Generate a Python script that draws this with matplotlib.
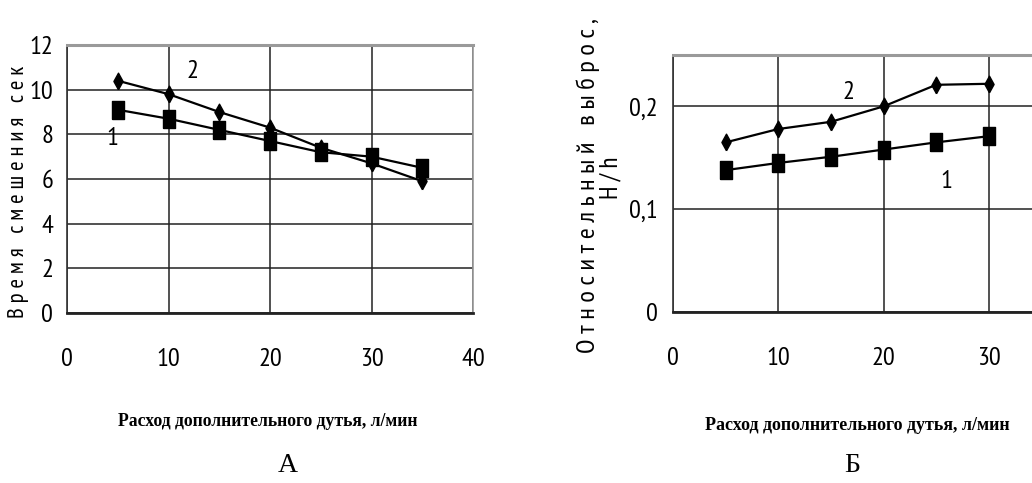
import matplotlib
matplotlib.use("Agg")
import matplotlib.pyplot as plt
from matplotlib.ticker import FixedLocator, FixedFormatter

# ---- data ----
x_a = [5, 10, 15, 20, 25, 30, 35]
a_series1 = [9.1, 8.7, 8.2, 7.7, 7.2, 7.0, 6.5]
a_series2 = [10.4, 9.8, 9.0, 8.3, 7.4, 6.7, 5.9]

x_b = [5, 10, 15, 20, 25, 30]
b_series1 = [0.138, 0.145, 0.151, 0.158, 0.165, 0.171]
b_series2 = [0.165, 0.178, 0.185, 0.200, 0.221, 0.222]

a_xticks = [0, 10, 20, 30, 40]
a_yticks = [0, 2, 4, 6, 8, 10, 12]
b_xticks = [0, 10, 20, 30]
b_yticks = [0, 0.1, 0.2]
b_yticklabels = ["0", "0,1", "0,2"]

xlabel = "Расход дополнительного дутья, л/мин"
a_ylabel = "В р е м я   с м е ш е н и я   с е к"
b_ylabel = "О т н о с и т е л ь н ы й   в ы б р о с ,"
b_ylabel2 = "H / h"

NARROW = ["PT Sans Narrow", "DejaVu Sans"]
SERIF = ["Liberation Serif", "DejaVu Serif"]

W, H = 1032, 483
fig = plt.figure(figsize=(W / 100, H / 100), dpi=100)

sq = [(-0.33, -0.5), (0.33, -0.5), (0.33, 0.5), (-0.33, 0.5), (-0.33, -0.5)]
dm = [(0, -1), (0.55, 0), (0, 1), (-0.55, 0), (0, -1)]


def style_axes(ax):
    ax.grid(True, color="#222222", linewidth=1.1)
    ax.set_axisbelow(True)
    ax.spines["top"].set_color("#9a9a9a")
    ax.spines["top"].set_linewidth(2.2)
    ax.spines["right"].set_color("#9a9a9a")
    ax.spines["right"].set_linewidth(1.2)
    ax.spines["left"].set_color("#333333")
    ax.spines["left"].set_linewidth(1.2)
    ax.spines["bottom"].set_color("#222222")
    ax.spines["bottom"].set_linewidth(2.0)
    ax.tick_params(length=0, labelsize=19)
    for lab in ax.get_xticklabels() + ax.get_yticklabels():
        lab.set_family(NARROW)


# ---- chart A ----
axA = fig.add_axes([67 / W, 1 - 313 / H, (473 - 67) / W, (313 - 45) / H])
axA.plot(x_a, a_series1, color="black", lw=1.6, marker=sq, ms=13, zorder=3)
axA.plot(x_a, a_series2, color="black", lw=1.6, marker=dm, ms=12, zorder=3)
axA.set_xlim(0, 40)
axA.set_ylim(0, 12)
axA.xaxis.set_major_locator(FixedLocator(a_xticks))
axA.yaxis.set_major_locator(FixedLocator(a_yticks))
axA.tick_params(axis="x", pad=25)
axA.tick_params(axis="y", pad=10)
style_axes(axA)
axA.text(4.5, 7.8, "1", fontsize=19, family=NARROW, ha="center", va="center")
axA.text(12.4, 10.8, "2", fontsize=19, family=NARROW, ha="center", va="center")

# ---- chart B ----
axB = fig.add_axes([673 / W, 1 - 312 / H, (1094 - 673) / W, (312 - 55) / H])
axB.plot(x_b, b_series1, color="black", lw=1.6, marker=sq, ms=13, zorder=3)
axB.plot(x_b, b_series2, color="black", lw=1.6, marker=dm, ms=12, zorder=3)
axB.set_xlim(0, 40)
axB.set_ylim(0, 0.25)
axB.xaxis.set_major_locator(FixedLocator(b_xticks))
axB.xaxis.set_minor_locator(FixedLocator([40]))
axB.grid(True, which="minor", axis="x", color="#222222", linewidth=1.1)
axB.yaxis.set_major_locator(FixedLocator(b_yticks))
axB.yaxis.set_major_formatter(FixedFormatter(b_yticklabels))
axB.tick_params(axis="x", pad=25)
axB.tick_params(axis="y", pad=11)
style_axes(axB)
axB.tick_params(which="minor", length=0)
axB.text(16.7, 0.214, "2", fontsize=19, family=NARROW, ha="center", va="center")
axB.text(26.0, 0.127, "1", fontsize=19, family=NARROW, ha="center", va="center")

# ---- axis titles ----
fig.text(268 / W, 1 - 421 / H, xlabel, fontsize=12.7, family=SERIF,
         weight="bold", ha="center", va="center")
fig.text(857 / W, 1 - 425 / H, xlabel, fontsize=13, family=SERIF,
         weight="bold", ha="center", va="center")
fig.text(19 / W, 1 - 192 / H, a_ylabel, fontsize=16.5, family=NARROW, rotation=90,
         ha="center", va="center")
fig.text(588 / W, 1 - 186 / H, b_ylabel, fontsize=19, family=NARROW, rotation=90,
         ha="center", va="center")
fig.text(611 / W, 1 - 178 / H, b_ylabel2, fontsize=18, family=NARROW, rotation=90,
         ha="center", va="center")

fig.text(288 / W, 1 - 466 / H, "А", fontsize=20, family=["Liberation Serif"], ha="center", va="center")
fig.text(852 / W, 1 - 466 / H, "Б", fontsize=20, family=["Liberation Serif"], ha="center", va="center")

fig.savefig("out.png", dpi=100)
